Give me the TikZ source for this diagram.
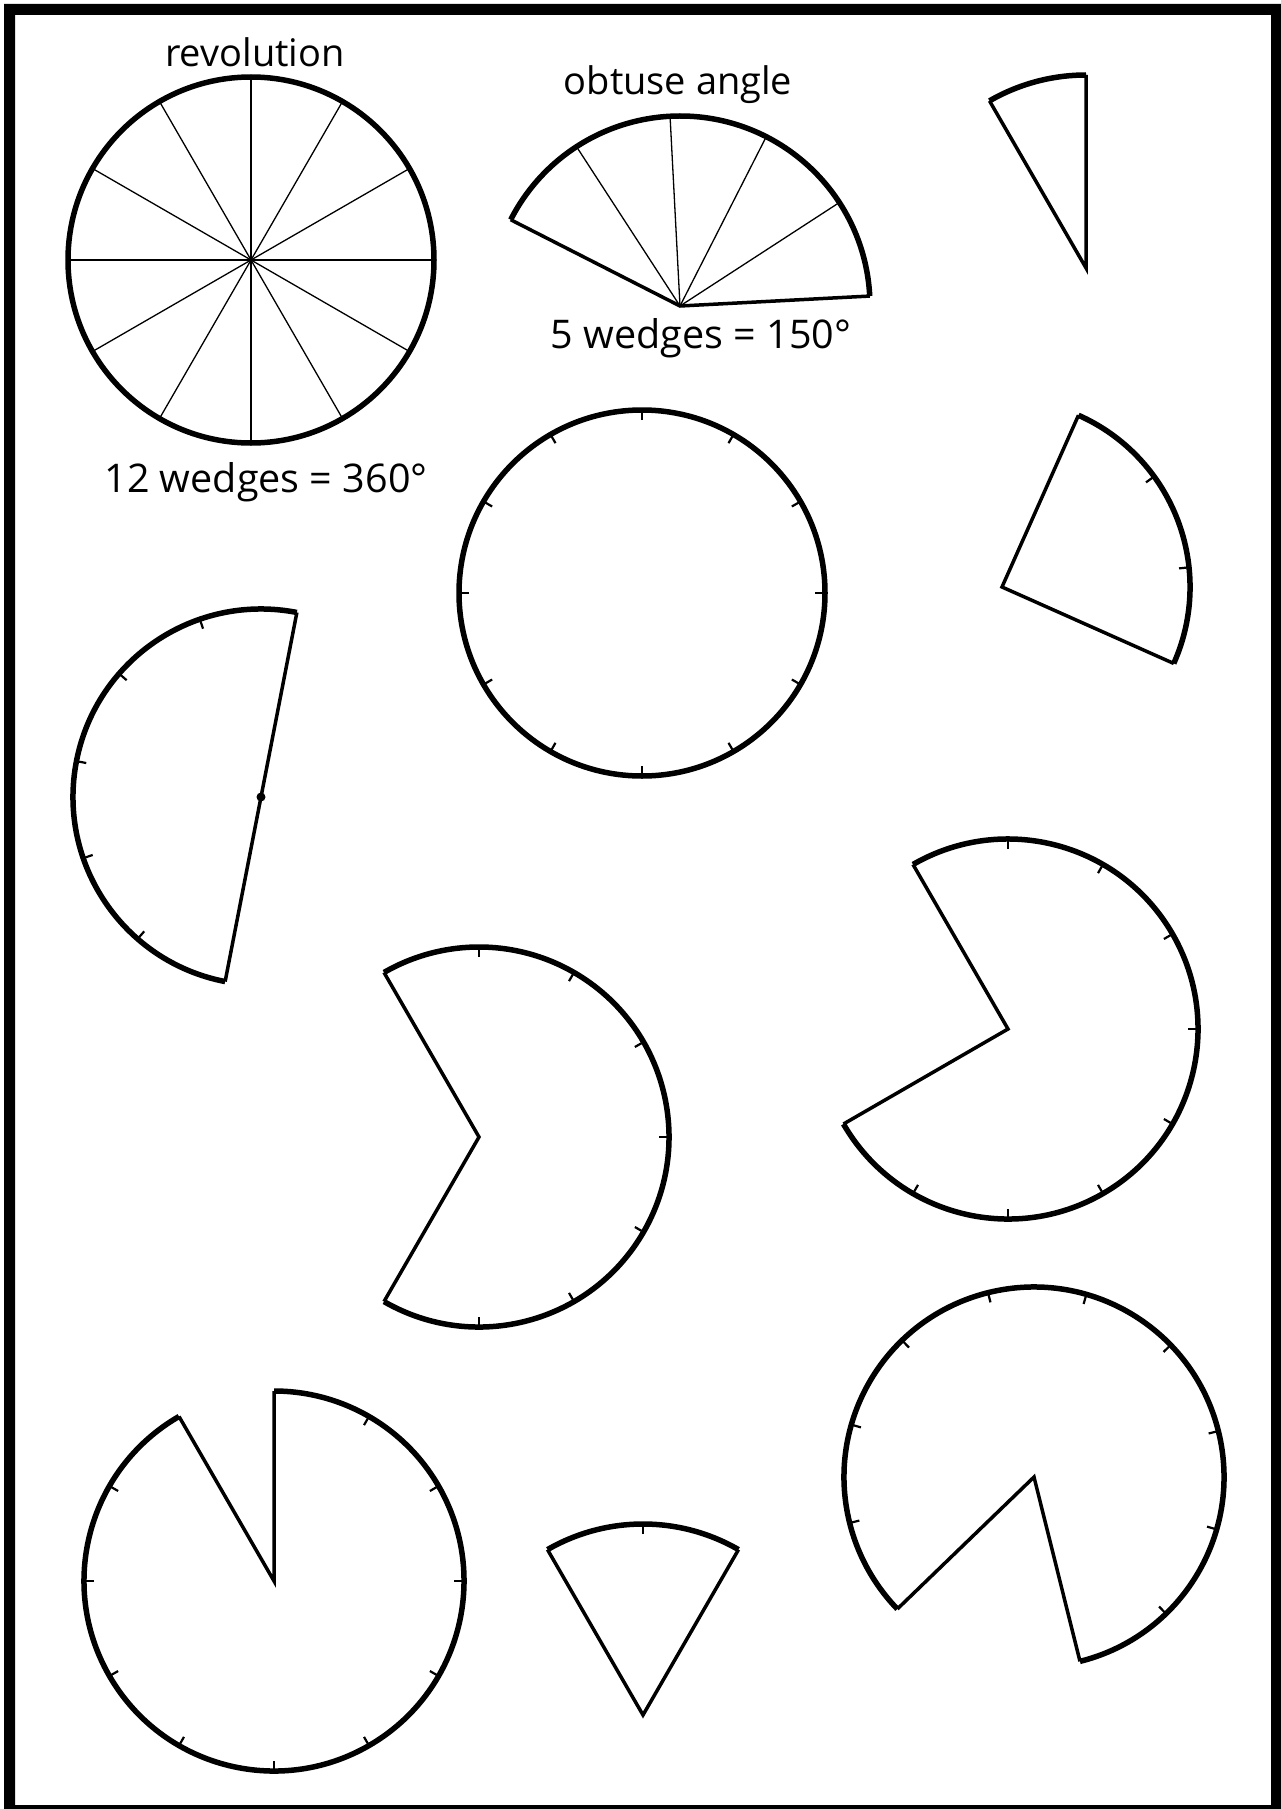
\documentclass[tikz,border=0pt]{standalone}
\usepackage{fontspec}
\setmainfont{Open Sans}
\begin{document}
\begin{tikzpicture}[x=1pt,y=1pt,
  arcline/.style={line width=5.5pt},
  edgeline/.style={line width=3.5pt, line join=miter},
  spoke/.style={line width=1.3pt},
  tickmark/.style={line width=2.2pt},
  lab/.style={font=\fontsize{38}{44}\selectfont, inner sep=0pt, anchor=base},
  caplab/.style={font=\fontsize{39.5}{44}\selectfont, inner sep=0pt, anchor=base}]
\useasboundingbox (0,0) rectangle (1281,-1809);
\fill[even odd rule] (4,-4) rectangle (1281,-1809) (15,-15) rectangle (1271,-1805);

% revolution
\coordinate (rev) at (251,-260);
\draw[arcline] (rev) circle[radius=183];
\foreach \a in {0,30,...,330} \draw[spoke] (rev) -- ++(\a:183);
\node[lab] (revlab) at (255,-67) {revolution};
\node[caplab] (revcap) at (266,-492) {12 wedges = 360°};

% obtuse angle
\coordinate (obt) at (680,-306);
\draw[arcline] (obt) ++(3:190) arc[start angle=3,end angle=153,radius=190];
\draw[edgeline] (obt) ++(153:190) -- (obt) -- ++(3:190);
\foreach \a in {33,63,93,123} \draw[spoke] (obt) -- ++(\a:190);
\node[lab] (obtlab) at (678,-95) {obtuse angle};
\node[caplab] (obtcap) at (701,-348) {5 wedges = 150°};

% small wedge top right
\coordinate (tw) at (1086,-268);
\draw[arcline] (tw) ++(90:193) arc[start angle=90,end angle=120,radius=193];
\draw[edgeline] (tw) ++(120:193) -- (tw) -- ++(90:193);

% middle circle
\coordinate (mc) at (642,-593);
\draw[arcline] (mc) circle[radius=183];
\foreach \a in {0,30,...,330} \draw[tickmark] (mc) ++(\a:173) -- ++(\a:10);

% right sector
\coordinate (rs) at (1002,-587);
\draw[arcline] (rs) ++(-24:188) arc[start angle=-24,end angle=66,radius=188];
\draw[edgeline] (rs) ++(66:188) -- (rs) -- ++(-24:188);
\foreach \a in {6,36} \draw[tickmark] (rs) ++(\a:178) -- ++(\a:10);

% left half
\coordinate (lh) at (261,-797);
\draw[arcline] (lh) ++(79:188) arc[start angle=79,end angle=259,radius=188];
\draw[edgeline] (lh) ++(79:188) -- (lh) -- ++(259:188);
\foreach \a in {109,139,169,199,229} \draw[tickmark] (lh) ++(\a:178) -- ++(\a:10);
\fill (lh) circle[radius=4.5];

% pacman 1
\coordinate (p1) at (479,-1137);
\draw[arcline] (p1) ++(-120:190) arc[start angle=-120,end angle=120,radius=190];
\draw[edgeline] (p1) ++(120:190) -- (p1) -- ++(-120:190);
\foreach \a in {-90,-60,...,90} \draw[tickmark] (p1) ++(\a:180) -- ++(\a:10);

% pacman 2
\coordinate (p2) at (1008,-1029);
\draw[arcline] (p2) ++(-150:190) arc[start angle=-150,end angle=120,radius=190];
\draw[edgeline] (p2) ++(120:190) -- (p2) -- ++(-150:190);
\foreach \a in {-120,-90,...,90} \draw[tickmark] (p2) ++(\a:180) -- ++(\a:10);

% bottom left
\coordinate (bl) at (274,-1581);
\draw[arcline] (bl) ++(120:190) arc[start angle=120,end angle=450,radius=190];
\draw[edgeline] (bl) ++(120:190) -- (bl) -- ++(90:190);
\foreach \a in {150,180,...,420} \draw[tickmark] (bl) ++(\a:180) -- ++(\a:10);

% bottom wedge
\coordinate (bw) at (643,-1715);
\draw[arcline] (bw) ++(60:191) arc[start angle=60,end angle=120,radius=191];
\draw[edgeline] (bw) ++(120:191) -- (bw) -- ++(60:191);
\draw[tickmark] (bw) ++(90:181) -- ++(90:10);

% bottom right
\coordinate (br) at (1034,-1477);
\draw[arcline] (br) ++(-76:190) arc[start angle=-76,end angle=224,radius=190];
\draw[edgeline] (br) ++(224:190) -- (br) -- ++(-76:190);
\foreach \a in {-46,-16,...,194} \draw[tickmark] (br) ++(\a:180) -- ++(\a:10);
\end{tikzpicture}
\end{document}
